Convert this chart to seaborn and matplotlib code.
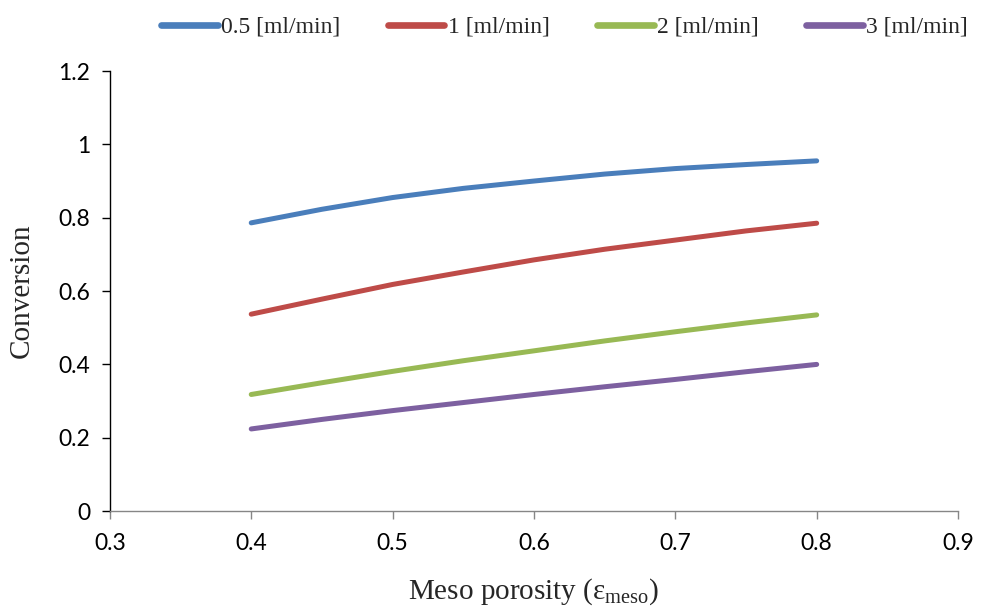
import matplotlib
matplotlib.use("Agg")
import matplotlib.pyplot as plt
import seaborn as sns
import pandas as pd

# Meso porosity values and conversion for each flow rate
porosity = [0.40, 0.45, 0.50, 0.55, 0.60, 0.65, 0.70, 0.75, 0.80]
conv_05 = [0.786, 0.823, 0.855, 0.880, 0.900, 0.919, 0.934, 0.945, 0.955]
conv_1 = [0.537, 0.578, 0.618, 0.652, 0.685, 0.714, 0.739, 0.764, 0.785]
conv_2 = [0.318, 0.350, 0.381, 0.410, 0.437, 0.464, 0.489, 0.513, 0.535]
conv_3 = [0.224, 0.250, 0.274, 0.296, 0.318, 0.339, 0.359, 0.380, 0.400]
series_labels = ["0.5 [ml/min]", "1 [ml/min]", "2 [ml/min]", "3 [ml/min]"]
colors = ["#4A7EBB", "#BE4B48", "#98B954", "#7D60A0"]
x_ticks = [0.3, 0.4, 0.5, 0.6, 0.7, 0.8, 0.9]
y_ticks = [0, 0.2, 0.4, 0.6, 0.8, 1.0, 1.2]
y_ticklabels = ["0", "0.2", "0.4", "0.6", "0.8", "1", "1.2"]

rows = []
for lab, vals in zip(series_labels, [conv_05, conv_1, conv_2, conv_3]):
    for p, v in zip(porosity, vals):
        rows.append({"porosity": p, "conversion": v, "flow": lab})
df = pd.DataFrame(rows)

sns.set_style("white")
plt.rcParams["mathtext.fontset"] = "custom"
plt.rcParams["mathtext.rm"] = "Liberation Serif"
plt.rcParams["mathtext.it"] = "Liberation Serif:italic"

fig = plt.figure(figsize=(9.81, 6.07), dpi=100)
ax = fig.add_axes([0.112, 0.158, 0.8646, 0.725])

sns.lineplot(data=df, x="porosity", y="conversion", hue="flow",
             hue_order=series_labels, palette=colors, linewidth=3.6,
             ax=ax, legend=False, solid_capstyle="round",
             solid_joinstyle="round")

ax.set_xlim(0.3, 0.9)
ax.set_ylim(0, 1.2)
ax.set_xticks(x_ticks)
ax.set_xticklabels([f"{t:.1f}" for t in x_ticks])
ax.set_yticks(y_ticks)
ax.set_yticklabels(y_ticklabels)

for lbl in ax.get_xticklabels() + ax.get_yticklabels():
    lbl.set_fontfamily("Lato")
    lbl.set_fontsize(16.5)
    lbl.set_color("black")

ax.spines["top"].set_visible(False)
ax.spines["right"].set_visible(False)
ax.spines["left"].set_color("black")
ax.spines["left"].set_linewidth(1.0)
ax.spines["bottom"].set_color("#868686")
ax.spines["bottom"].set_linewidth(1.0)
ax.tick_params(axis="y", direction="out", length=6, width=1, color="black", pad=8, left=True)
ax.tick_params(axis="x", direction="out", length=6, width=1, color="#868686", pad=10, bottom=True)

ax.set_xlabel("Meso porosity (ε$_{\\mathrm{meso}}$)", fontfamily="Liberation Serif",
              fontsize=21, labelpad=16)
ax.set_ylabel("Conversion", fontfamily="Liberation Serif", fontsize=21, labelpad=17)

handles = [plt.Line2D([0], [0], color=c, linewidth=4.8, solid_capstyle="round")
           for c in colors]
fig.legend(handles, series_labels, loc="upper center", bbox_to_anchor=(0.5755, 1.008),
           ncol=4, frameon=False, handlelength=2.4, handletextpad=0.15,
           columnspacing=2.0, prop={"family": "Liberation Serif", "size": 17})

fig.savefig("out.png", dpi=100)
